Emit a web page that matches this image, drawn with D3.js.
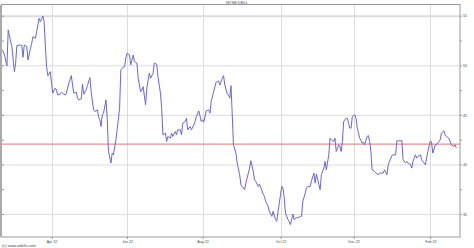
<!DOCTYPE html>
<meta charset="utf-8">
<style>
body { margin: 0; background: #fff; }
text { font-family: "Liberation Sans", Arial, sans-serif; fill: #444; }
</style>
<body>
<script src="https://d3js.org/d3.v7.min.js"></script>
<script>

const width = 474,
    height = 248

const symbol = 'NYSE:DELL'
const credit = '(c) www.advfn.com'

// daily closes
const dates = [
  '2022-02-20','2022-02-21','2022-02-22','2022-02-24','2022-02-25','2022-02-27','2022-02-28',
  '2022-03-02','2022-03-03','2022-03-04','2022-03-07','2022-03-08','2022-03-09','2022-03-10','2022-03-12','2022-03-13','2022-03-15','2022-03-16','2022-03-17','2022-03-19','2022-03-20','2022-03-22','2022-03-23','2022-03-25','2022-03-26','2022-03-27','2022-03-28','2022-03-29','2022-03-31',
  '2022-04-01','2022-04-02','2022-04-04','2022-04-05','2022-04-06','2022-04-08','2022-04-09','2022-04-11','2022-04-12','2022-04-13','2022-04-15','2022-04-17','2022-04-18','2022-04-19','2022-04-21','2022-04-22','2022-04-23','2022-04-25','2022-04-26','2022-04-27','2022-04-29','2022-04-30',
  '2022-05-02','2022-05-03','2022-05-05','2022-05-06','2022-05-08','2022-05-09','2022-05-10','2022-05-11','2022-05-12','2022-05-13','2022-05-15','2022-05-16','2022-05-17','2022-05-19','2022-05-20','2022-05-21','2022-05-23','2022-05-24','2022-05-26','2022-05-27','2022-05-28','2022-05-30','2022-05-31',
  '2022-06-01','2022-06-03','2022-06-04','2022-06-06','2022-06-07','2022-06-09','2022-06-10','2022-06-12','2022-06-13','2022-06-14','2022-06-16','2022-06-17','2022-06-19','2022-06-20','2022-06-22','2022-06-23','2022-06-25','2022-06-26','2022-06-28','2022-06-29','2022-06-30',
  '2022-07-02','2022-07-03','2022-07-04','2022-07-06','2022-07-07','2022-07-08','2022-07-10','2022-07-11','2022-07-12','2022-07-14','2022-07-15','2022-07-16','2022-07-18','2022-07-19','2022-07-20','2022-07-22','2022-07-23','2022-07-25','2022-07-26','2022-07-27','2022-07-29','2022-07-31',
  '2022-08-01','2022-08-02','2022-08-04','2022-08-06','2022-08-07','2022-08-08','2022-08-10','2022-08-11','2022-08-12','2022-08-14','2022-08-15','2022-08-17','2022-08-18','2022-08-19','2022-08-21','2022-08-22','2022-08-23','2022-08-24','2022-08-25','2022-08-26','2022-08-28','2022-08-29','2022-08-31',
  '2022-09-01','2022-09-02','2022-09-04','2022-09-05','2022-09-07','2022-09-08','2022-09-09','2022-09-11','2022-09-12','2022-09-13','2022-09-15','2022-09-16','2022-09-17','2022-09-19','2022-09-20','2022-09-21','2022-09-23','2022-09-24','2022-09-26','2022-09-27','2022-09-29','2022-09-30',
  '2022-10-01','2022-10-03','2022-10-04','2022-10-05','2022-10-06','2022-10-07','2022-10-09','2022-10-10','2022-10-11','2022-10-12','2022-10-13','2022-10-14','2022-10-16','2022-10-17','2022-10-19','2022-10-20','2022-10-21','2022-10-23','2022-10-24','2022-10-25','2022-10-27','2022-10-28','2022-10-30','2022-10-31',
  '2022-11-01','2022-11-03','2022-11-04','2022-11-05','2022-11-07','2022-11-08','2022-11-09','2022-11-11','2022-11-12','2022-11-13','2022-11-15','2022-11-16','2022-11-17','2022-11-19','2022-11-20','2022-11-21','2022-11-22','2022-11-23','2022-11-25','2022-11-26','2022-11-28','2022-11-29','2022-11-30',
  '2022-12-02','2022-12-03','2022-12-04','2022-12-06','2022-12-08','2022-12-09','2022-12-10','2022-12-12','2022-12-13','2022-12-14','2022-12-15','2022-12-16','2022-12-18','2022-12-20','2022-12-21','2022-12-22','2022-12-24','2022-12-25','2022-12-26','2022-12-28','2022-12-29','2022-12-30',
  '2023-01-01','2023-01-02','2023-01-04','2023-01-05','2023-01-06','2023-01-08','2023-01-09','2023-01-10','2023-01-12','2023-01-13','2023-01-14','2023-01-16','2023-01-17','2023-01-18','2023-01-20','2023-01-21','2023-01-22','2023-01-24','2023-01-25','2023-01-26','2023-01-28','2023-01-29','2023-01-30',
  '2023-02-01','2023-02-02','2023-02-03','2023-02-05','2023-02-06','2023-02-07','2023-02-09','2023-02-10','2023-02-12','2023-02-13','2023-02-14','2023-02-16','2023-02-17','2023-02-18','2023-02-20','2023-02-21','2023-02-22'
]

const closes = [
  51.55,51.37,51.04,49.93,53.56,52.38,51.88,
  49.36,50.21,51.98,52.05,51.98,50.81,52.05,51.88,50.54,51.72,52.22,52.89,52.72,53.39,54.74,54.40,54.97,54.40,52.05,49.86,48.96,49.36,
  48.19,47.19,47.69,47.52,47.01,47.08,47.29,47.08,47.01,47.19,48.19,48.96,48.02,47.19,47.29,46.68,46.51,46.61,48.09,47.08,47.52,47.95,
  48.76,47.35,45.50,45.33,45.50,44.83,44.50,43.82,45.00,45.17,46.51,44.67,41.30,40.14,41.14,40.97,42.48,43.49,45.68,49.53,49.70,49.86,50.71,
  51.21,51.04,50.04,51.04,50.37,50.21,48.70,47.35,47.52,47.85,46.01,47.69,49.20,48.70,49.20,50.21,50.11,48.86,47.19,45.68,42.99,
  43.16,42.31,42.82,42.65,43.16,42.82,43.32,42.99,43.49,43.49,42.99,44.16,44.33,44.67,43.49,43.82,43.49,43.99,44.33,44.83,45.40,44.33,
  44.50,44.27,45.40,45.50,45.17,46.34,47.35,47.85,48.29,48.42,48.02,48.70,48.96,48.02,47.08,47.01,46.68,47.95,45.00,41.98,41.14,40.14,38.96,
  37.95,37.78,37.45,38.12,39.13,39.63,40.37,39.29,38.45,38.28,37.78,38.02,37.68,37.01,36.77,36.27,35.77,35.23,34.76,35.28,34.43,34.26,
  35.26,36.94,37.78,37.62,36.61,35.10,34.43,34.26,33.92,34.43,35.00,34.43,34.66,34.60,34.76,34.76,36.27,37.12,37.62,37.78,37.78,38.35,39.13,38.12,
  39.03,37.95,37.45,38.96,39.63,40.30,39.46,40.97,42.65,42.48,42.31,42.65,41.30,41.98,41.81,41.30,42.31,44.33,44.67,44.67,43.66,43.66,44.83,
  45.00,44.67,43.66,42.65,42.15,42.25,41.98,42.82,42.92,42.31,41.30,39.46,39.29,39.03,38.96,39.13,39.13,39.13,39.46,38.96,39.97,40.30,
  40.90,40.97,40.97,42.38,42.38,42.38,42.45,40.47,40.14,40.30,40.14,39.97,39.63,40.30,40.97,40.64,40.80,40.97,40.47,40.30,39.97,40.64,41.30,
  42.38,42.25,41.14,41.98,41.98,42.15,42.48,43.16,43.39,42.99,42.82,42.65,42.31,41.98,41.81,41.98,41.65
]

const refLevel = 42.05
const dateRange = ['2022-02-20', '2023-02-25']
const priceRange = [32.68, 56.08]
const priceTicks = [35, 40, 45, 50, 55]
const minorTicks = [35, 37.5, 40, 42.5, 45, 47.5, 50, 52.5, 55]
const monthTicks = ['2022-04-01', '2022-06-01', '2022-08-01', '2022-10-03', '2022-12-01', '2023-02-01']

const parse = d3.timeParse('%Y-%m-%d')
const data = dates.map(function (d, i) { return { date: parse(d), close: closes[i] } })

const plot = { left: 2, right: 460, top: 5, bottom: 237 }

var x = d3.scaleTime()
    .domain(dateRange.map(parse))
    .range([plot.left, plot.right])

var y = d3.scaleLinear()
    .domain(priceRange)
    .range([plot.bottom, plot.top])

var svg = d3.select('body')
    .append('svg')
    .attr('width', width)
    .attr('height', height)

// grid
svg.append('g')
    .selectAll('line')
    .data(priceTicks)
    .enter().append('line')
    .attr('x1', plot.left).attr('x2', plot.right)
    .attr('y1', function (d) { return y(d) + 0.5 })
    .attr('y2', function (d) { return y(d) + 0.5 })
    .attr('stroke', '#dcdcdc')
    .attr('stroke-width', function (d) { return d === 55 ? 2 : 1 })

svg.append('g')
    .selectAll('line')
    .data(monthTicks)
    .enter().append('line')
    .attr('x1', function (d) { return Math.round(x(parse(d))) + 0.5 })
    .attr('x2', function (d) { return Math.round(x(parse(d))) + 0.5 })
    .attr('y1', plot.top).attr('y2', plot.bottom)
    .attr('stroke', '#dcdcdc')

// reference level
svg.append('line')
    .attr('x1', plot.left).attr('x2', plot.right)
    .attr('y1', y(refLevel)).attr('y2', y(refLevel))
    .attr('stroke', '#e47474')
    .attr('stroke-width', 1)

// price line
var line = d3.line()
    .x(function (d) { return x(d.date) })
    .y(function (d) { return y(d.close) })

svg.append('path')
    .datum(data)
    .attr('d', line)
    .attr('fill', 'none')
    .attr('stroke', '#6666e4')
    .attr('stroke-width', 1)

// frame
svg.append('rect')
    .attr('x', plot.left - 0.5).attr('y', plot.top - 0.5)
    .attr('width', plot.right - plot.left + 0.5)
    .attr('height', plot.bottom - plot.top + 0.5)
    .attr('fill', 'none')
    .attr('stroke', '#999')

svg.append('line')
    .attr('x1', 1).attr('x2', 1)
    .attr('y1', plot.top).attr('y2', plot.bottom)
    .attr('stroke', '#aaa').attr('stroke-width', 2)

// right axis
var yAxis = d3.axisRight(y)
    .tickValues(minorTicks)
    .tickSize(2)
    .tickFormat(function (d) { return priceTicks.indexOf(d) >= 0 ? d : '' })

svg.append('g')
    .attr('transform', 'translate(' + plot.right + ',0)')
    .call(yAxis)
    .call(function (g) {
        g.select('.domain').remove()
        g.selectAll('line').attr('stroke', '#999')
        g.selectAll('text').attr('x', 3).style('font-size', '3.6px').attr('fill', '#444')
    })

// left minor ticks
svg.append('g')
    .attr('transform', 'translate(' + plot.left + ',0)')
    .call(d3.axisRight(y).tickValues(minorTicks).tickSize(2).tickFormat(''))
    .call(function (g) {
        g.select('.domain').remove()
        g.selectAll('line').attr('stroke', '#999')
    })

// bottom axis
var xAxis = d3.axisBottom(x)
    .tickValues(monthTicks.map(parse))
    .tickSize(2)
    .tickFormat(d3.timeFormat('%b %y'))

svg.append('g')
    .attr('transform', 'translate(0,' + plot.bottom + ')')
    .call(xAxis)
    .call(function (g) {
        g.select('.domain').remove()
        g.selectAll('line').attr('stroke', '#999')
        g.selectAll('text').attr('y', 3).style('font-size', '3.6px').attr('fill', '#444')
    })

svg.append('text')
    .attr('x', 237).attr('y', 4.2)
    .attr('text-anchor', 'middle')
    .style('font-size', '4px')
    .text(symbol)

svg.append('text')
    .attr('x', 2).attr('y', 246.5)
    .style('font-size', '4px')
    .text(credit)

</script>
</body>
